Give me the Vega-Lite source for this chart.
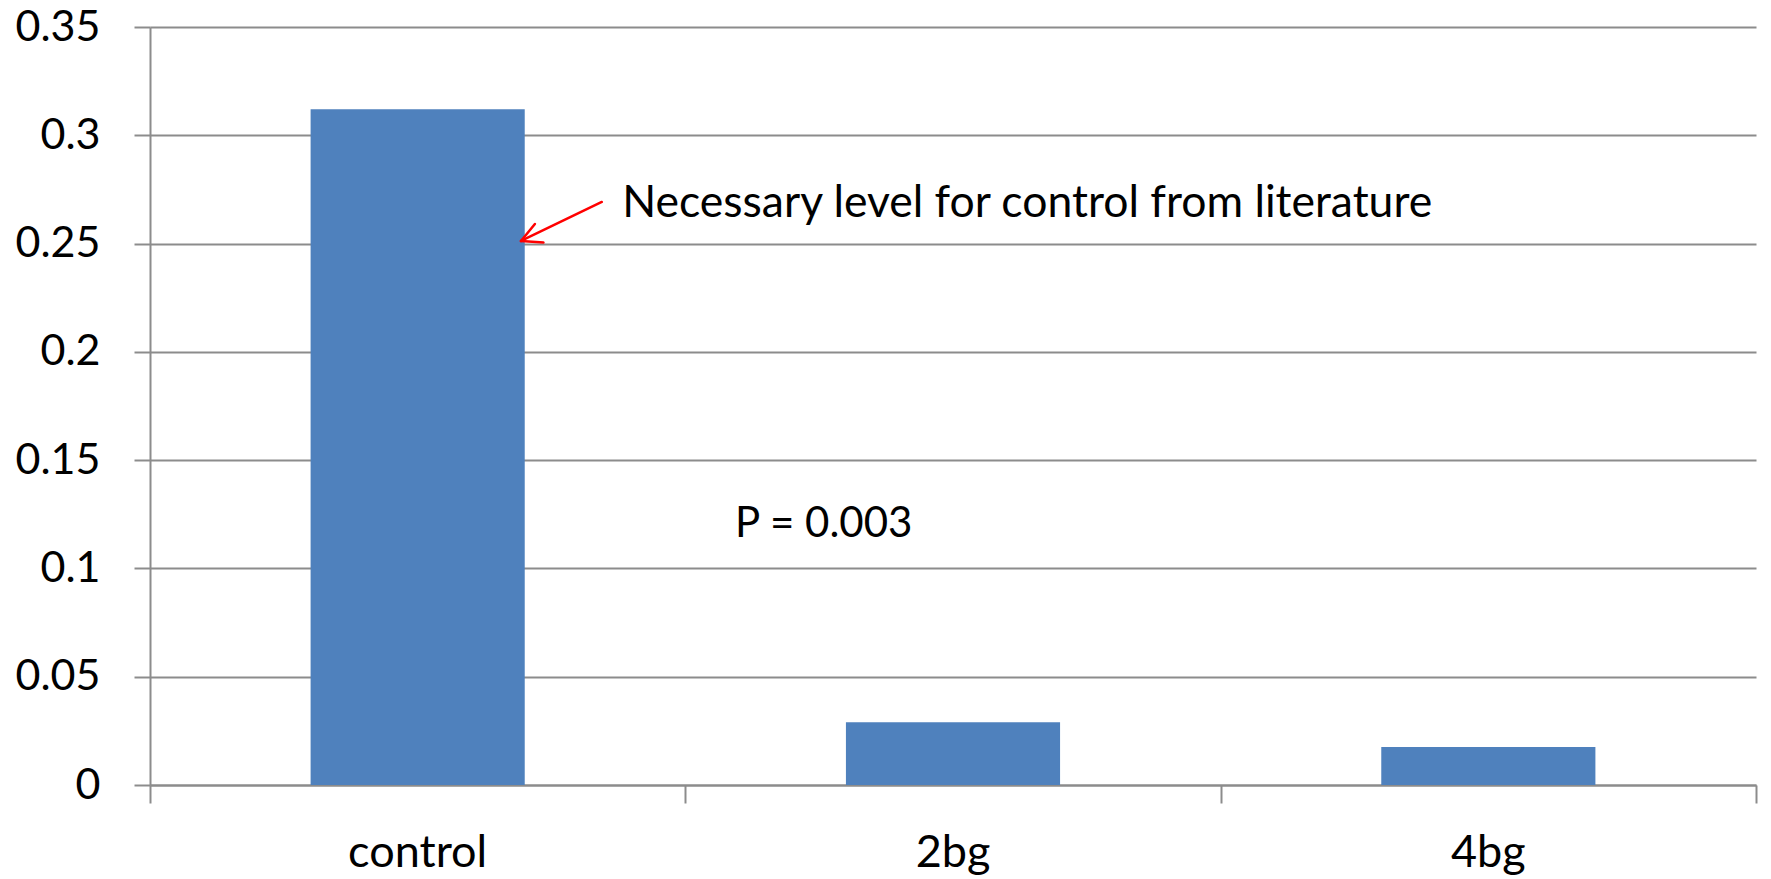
{
  "$schema": "https://vega.github.io/schema/vega-lite/v6.json",
  "width": 1606,
  "height": 758,
  "autosize": {"type": "none"},
  "padding": {"left": 150, "top": 27, "right": 15, "bottom": 94},
  "background": "white",
  "config": {
    "view": {"stroke": null},
    "font": "Lato"
  },
  "datasets": {
    "bars": [
      {"group": "control", "value": 0.312},
      {"group": "2bg", "value": 0.029},
      {"group": "4bg", "value": 0.0175}
    ],
    "arrow": [
      {"x": 0.844, "y": 0.2692, "x2": 0.693, "y2": 0.2512},
      {"x": 0.693, "y": 0.2512, "x2": 0.735, "y2": 0.2505},
      {"x": 0.693, "y": 0.2512, "x2": 0.719, "y2": 0.2590}
    ],
    "notes": [
      {"x": 0.882, "y": 0.2623, "label": "Necessary level for control from literature", "size": 44.5},
      {"x": 1.093, "y": 0.1145, "label": "P = 0.003", "size": 42}
    ]
  },
  "layer": [
    {
      "data": {"name": "bars"},
      "mark": {"type": "bar", "color": "#4F81BD"},
      "encoding": {
        "x": {
          "field": "group", "type": "nominal", "sort": ["control", "2bg", "4bg"],
          "scale": {"paddingInner": 0.6, "paddingOuter": 0.3},
          "axis": {
            "title": null, "domain": false, "ticks": false, "tickSize": 0,
            "labelAngle": 0, "labelFontSize": 45, "labelColor": "#000000",
            "labelPadding": 45, "labelFont": "Lato"
          }
        },
        "y": {
          "field": "value", "type": "quantitative",
          "scale": {"domain": [0, 0.35], "nice": false, "zero": true},
          "axis": {
            "title": null, "values": [0, 0.05, 0.1, 0.15, 0.2, 0.25, 0.3, 0.35],
            "labelExpr": "datum.value == 0 ? '0' : replace(format(datum.value, '.2f'), /0$/, '')",
            "labelFontSize": 43, "labelColor": "#000000", "labelFont": "Lato",
            "labelPadding": 34, "tickSize": 16, "tickColor": "#8c8c8c", "tickWidth": 2,
            "domainColor": "#8c8c8c", "domainWidth": 2,
            "grid": true, "gridColor": "#8c8c8c", "gridWidth": 2
          }
        }
      }
    },
    {
      "layer": [
        {
          "data": {"name": "arrow"},
          "mark": {"type": "rule", "color": "#ff0000", "strokeWidth": 2.5, "strokeCap": "round"},
          "encoding": {
            "x": {
              "field": "x", "type": "quantitative",
              "scale": {"domain": [0, 3], "nice": false, "zero": false},
              "axis": {
                "title": null, "values": [0, 1, 2, 3], "labels": false, "grid": false,
                "orient": "bottom",
                "tickSize": 18, "tickColor": "#8c8c8c", "tickWidth": 2,
                "domain": true, "domainColor": "#8c8c8c", "domainWidth": 2
              }
            },
            "x2": {"field": "x2"},
            "y": {"field": "y", "type": "quantitative"},
            "y2": {"field": "y2"}
          }
        },
        {
          "data": {"name": "notes"},
          "mark": {"type": "text", "align": "left", "baseline": "alphabetic", "font": "Lato", "color": "#000000"},
          "encoding": {
            "x": {"field": "x", "type": "quantitative"},
            "y": {"field": "y", "type": "quantitative"},
            "text": {"field": "label"},
            "size": {"field": "size", "type": "quantitative", "scale": null, "legend": null}
          }
        }
      ]
    }
  ],
  "resolve": {"scale": {"x": "independent"}, "axis": {"x": "independent"}}
}
